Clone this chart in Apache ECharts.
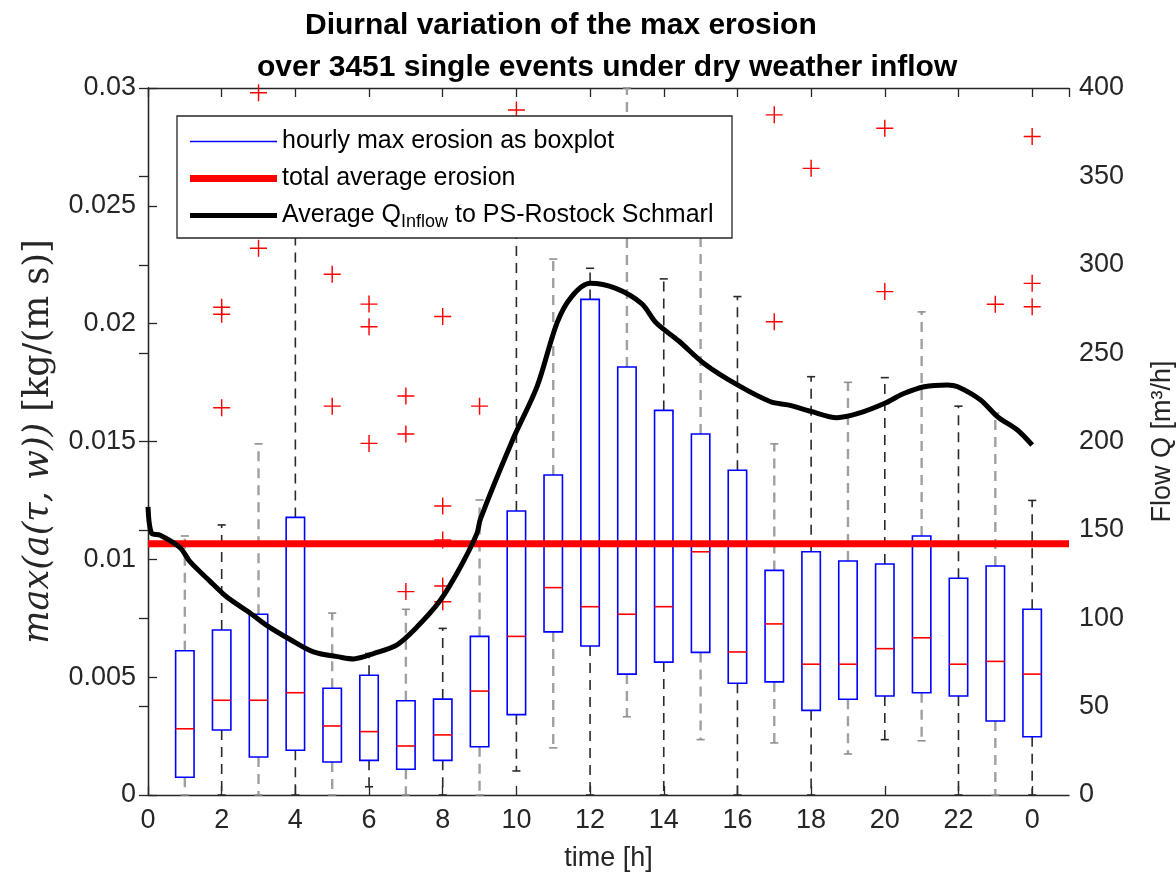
<!DOCTYPE html>
<html>
<head>
<meta charset="utf-8">
<script src="https://cdn.jsdelivr.net/npm/echarts@6/dist/echarts.min.js"></script>
<style>
  html, body { margin: 0; padding: 0; background: #fff; }
  #main { width: 1176px; height: 884px; }
</style>
</head>
<body>
<div id="main"></div>
<script>
// hourly boxplots (hour 24 = midnight, labelled 0)
var hours      = [1, 2, 3, 4, 5, 6, 7, 8, 9, 10, 11, 12, 13, 14, 15, 16, 17, 18, 19, 20, 21, 22, 23, 24];
var whiskerLow = [0, 0, 0, 0, 0, 0.00035, 0, 0, 0, 0.00102, 0.0020, 0, 0.00332, 0, 0.00235, 0, 0.00221, 0, 0.00174, 0.00235, 0.0023, 0, 0, 0];
var q1         = [0.00075, 0.00276, 0.00161, 0.0019, 0.0014, 0.00147, 0.00109, 0.00147, 0.00205, 0.00341, 0.00692, 0.00632, 0.00513, 0.00564, 0.00605, 0.00474, 0.0048, 0.00359, 0.00406, 0.0042, 0.00434, 0.0042, 0.00314, 0.00247];
var median     = [0.00281, 0.00402, 0.00402, 0.00434, 0.00293, 0.00269, 0.00208, 0.00255, 0.00441, 0.00673, 0.0088, 0.00799, 0.00767, 0.00799, 0.01032, 0.00607, 0.00726, 0.00555, 0.00555, 0.00621, 0.00667, 0.00555, 0.00567, 0.00513];
var q3         = [0.00612, 0.0070, 0.00767, 0.01178, 0.00453, 0.00508, 0.0040, 0.00407, 0.00673, 0.01205, 0.01358, 0.02103, 0.01816, 0.01632, 0.01532, 0.01378, 0.00953, 0.01032, 0.00993, 0.0098, 0.01099, 0.0092, 0.00972, 0.00788];
var whiskerHigh= [0.01099, 0.01146, 0.0149, 0.0250, 0.00772, 0.0060, 0.00788, 0.00707, 0.01252, 0.0250, 0.02274, 0.02235, 0.0300, 0.0219, 0.0250, 0.02115, 0.0149, 0.01775, 0.01751, 0.01771, 0.0205, 0.0165, 0.0162, 0.0125];

// outliers [hour, value]
var outliers = [
  [2, 0.0207], [2, 0.0204], [2, 0.01643],
  [3, 0.0298], [3, 0.0232],
  [5, 0.0221], [5, 0.0165],
  [6, 0.02083], [6, 0.01987], [6, 0.01492],
  [7, 0.01693], [7, 0.01532], [7, 0.00863],
  [8, 0.0203], [8, 0.01226], [8, 0.01082], [8, 0.00887], [8, 0.0082],
  [9, 0.0165],
  [10, 0.02907],
  [17, 0.02886], [17, 0.02008],
  [18, 0.02659],
  [20, 0.02829], [20, 0.02136],
  [23, 0.02082],
  [24, 0.02794], [24, 0.02171], [24, 0.02072]
];

var avgErosion = 0.01066;

// average inflow (right axis)
var flowHour  = [0, 0.1, 0.33, 0.87, 1.14, 1.68, 2.14, 2.77, 3.22, 3.86, 4.49, 5.22, 5.58, 6.12, 6.76, 7.3, 7.93, 8.48, 8.93, 9.02, 9.9, 10.56, 11.1, 11.5, 12.0, 12.7, 13.4, 13.8, 14.4, 15.1, 16.0, 16.9, 17.4, 18.0, 18.7, 19.3, 20.0, 20.5, 21.07, 21.7, 21.98, 22.6, 23.06, 23.6, 24.0];
var flowValue = [163, 148, 147, 140, 132, 121, 112, 103, 96, 88, 81, 78, 77, 80, 85, 95, 110, 129, 148, 156, 201, 231, 267, 282, 289.5, 286.6, 278, 267, 257, 244, 232, 222.5, 220.6, 217, 213.5, 216, 221.6, 227, 231, 232, 231, 223.5, 214, 206.5, 198];

var boxData = hours.map(function (h, i) {
  return [h, whiskerLow[i], q1[i], median[i], q3[i], whiskerHigh[i]];
});
var flowData = flowHour.map(function (h, i) { return [h, flowValue[i]]; });

var nameBox = 'hourly max erosion as boxplot';
var nameAvg = 'total average erosion';
var nameFlow = 'Average Q_Inflow';

var axisColor = '#262626';
var font = 'Liberation Sans, Arial, sans-serif';

function renderBox(params, api) {
  var x = api.value(0);
  var lo = api.coord([x, api.value(1)]);
  var b1 = api.coord([x, api.value(2)]);
  var md = api.coord([x, api.value(3)]);
  var b3 = api.coord([x, api.value(4)]);
  var hi = api.coord([x, api.value(5)]);
  var unit = api.size([1, 0])[0];
  var hw = unit * 0.25, cw = unit * 0.11;
  var odd = x % 2 === 1;
  var wStyle = { stroke: odd ? '#a0a0a0' : '#2a2a2a', lineWidth: odd ? 2.4 : 1.6, lineDash: [10, 7] };
  var cStyle = { stroke: odd ? '#909090' : '#2a2a2a', lineWidth: 1.6 };
  return {
    type: 'group',
    children: [
      { type: 'line', shape: { x1: b3[0], y1: b3[1], x2: hi[0], y2: hi[1] }, style: wStyle },
      { type: 'line', shape: { x1: b1[0], y1: b1[1], x2: lo[0], y2: lo[1] }, style: wStyle },
      { type: 'line', shape: { x1: hi[0] - cw, y1: hi[1], x2: hi[0] + cw, y2: hi[1] }, style: cStyle },
      { type: 'line', shape: { x1: lo[0] - cw, y1: lo[1], x2: lo[0] + cw, y2: lo[1] }, style: cStyle },
      { type: 'rect', shape: { x: b3[0] - hw, y: b3[1], width: hw * 2, height: b1[1] - b3[1] },
        style: { fill: '#fff', stroke: '#0000ff', lineWidth: 1.6 } },
      { type: 'line', shape: { x1: md[0] - hw, y1: md[1], x2: md[0] + hw, y2: md[1] },
        style: { stroke: '#ff0000', lineWidth: 1.6 } }
    ]
  };
}

var myChart = echarts.init(document.getElementById('main'));
var option = {
  animation: false,
  backgroundColor: '#fff',
  title: [
    { text: 'Diurnal variation of the max erosion', left: 300, top: 6,
      textStyle: { fontFamily: font, fontWeight: 'bold', fontSize: 30, color: '#000' } },
    { text: 'over 3451 single events under dry weather inflow', left: 252, top: 48,
      textStyle: { fontFamily: font, fontWeight: 'bold', fontSize: 30, color: '#000' } }
  ],
  grid: { left: 148, right: 107, top: 88, bottom: 89, outerBoundsMode: 'none', containLabel: false },
  graphic: [
    { type: 'rect', z: 50, shape: { x: 177, y: 116, width: 555, height: 122 },
      style: { fill: '#fff', stroke: axisColor, lineWidth: 1.3 } }
  ],
  legend: [
    { data: [{ name: nameBox, icon: 'rect', itemStyle: { color: '#0000ff' } }],
      left: 185, top: 124, itemWidth: 87, itemHeight: 1.5, z: 60,
      textStyle: { fontFamily: font, fontSize: 25, color: '#000' } },
    { data: [{ name: nameAvg, icon: 'rect', itemStyle: { color: '#ff0000' } }],
      left: 185, top: 161, itemWidth: 87, itemHeight: 7, z: 60,
      textStyle: { fontFamily: font, fontSize: 25, color: '#000' } },
    { data: [{ name: nameFlow, icon: 'rect', itemStyle: { color: '#000' } }],
      left: 185, top: 198, itemWidth: 87, itemHeight: 5, z: 60,
      formatter: function () { return 'Average Q{sub|Inflow} to PS-Rostock Schmarl'; },
      textStyle: { fontFamily: font, fontSize: 25, color: '#000',
        rich: { sub: { fontFamily: font, fontSize: 18, color: '#000', padding: [14, 0, 0, 0] } } } }
  ],
  xAxis: [
    { type: 'value', min: 0, max: 25, interval: 2, position: 'bottom',
      name: 'time [h]', nameLocation: 'middle', nameGap: 50,
      nameTextStyle: { fontFamily: font, fontSize: 27, color: axisColor },
      axisLine: { onZero: false, lineStyle: { color: axisColor, width: 1.3 } },
      axisTick: { inside: true, length: 9, lineStyle: { color: axisColor, width: 1.3 } },
      axisLabel: { fontFamily: font, fontSize: 27, color: axisColor, margin: 12,
        showMaxLabel: false,
        formatter: function (v) { return v > 25 ? '' : String(v % 24); } },
      splitLine: { show: false } },
    { type: 'value', min: 0, max: 25, interval: 2, position: 'top',
      axisLine: { onZero: false, lineStyle: { color: axisColor, width: 1.3 } },
      axisTick: { inside: true, length: 9, lineStyle: { color: axisColor, width: 1.3 } },
      axisLabel: { show: false }, splitLine: { show: false } }
  ],
  yAxis: [
    { type: 'value', min: 0, max: 0.03, interval: 0.005, position: 'left',
      name: '{i|max(a(τ, w))} [kg/(m s)]', nameLocation: 'middle', nameGap: 92,
      nameTextStyle: { fontFamily: 'DejaVu Serif, serif', fontSize: 35, color: axisColor,
        rich: { i: { fontFamily: 'DejaVu Serif, serif', fontStyle: 'italic', fontSize: 35, color: axisColor } } },
      axisLine: { show: true, lineStyle: { color: axisColor, width: 1.3 } },
      axisTick: { show: true, inside: true, length: 9, lineStyle: { color: axisColor, width: 1.3 } },
      axisLabel: { fontFamily: font, fontSize: 27, color: axisColor, margin: 12 },
      splitLine: { show: false } },
    { type: 'value', min: 0, max: 400, interval: 50, position: 'right',
      name: 'Flow Q [m³/h]', nameLocation: 'middle', nameGap: 80, nameRotate: 90,
      nameTextStyle: { fontFamily: font, fontSize: 27, color: axisColor },
      axisLine: { show: true, lineStyle: { color: axisColor, width: 1.3 } },
      axisTick: { show: true, inside: true, length: 9, lineStyle: { color: axisColor, width: 1.3 } },
      axisLabel: { fontFamily: font, fontSize: 27, color: axisColor, margin: 10 },
      splitLine: { show: false } }
  ],
  series: [
    { name: nameBox, type: 'custom', renderItem: renderBox, data: boxData,
      encode: { x: 0, y: [1, 2, 3, 4, 5] }, clip: false, z: 2, itemStyle: { color: '#0000ff' } },
    { name: 'outliers', type: 'scatter', data: outliers, z: 3,
      symbol: 'path://M9.15,0H10.85V9.15H20V10.85H10.85V20H9.15V10.85H0V9.15H9.15Z',
      symbolSize: 17, itemStyle: { color: '#ff0000', opacity: 1 } },
    { name: nameAvg, type: 'line', data: [[0, avgErosion], [25, avgErosion]], z: 4,
      symbol: 'none', lineStyle: { color: '#ff0000', width: 7 }, itemStyle: { color: '#ff0000' } },
    { name: nameFlow, type: 'line', yAxisIndex: 1, data: flowData, z: 5,
      symbol: 'none', smooth: 0.3, lineStyle: { color: '#000', width: 5 }, itemStyle: { color: '#000' } }
  ]
};
myChart.setOption(option);
</script>
</body>
</html>
